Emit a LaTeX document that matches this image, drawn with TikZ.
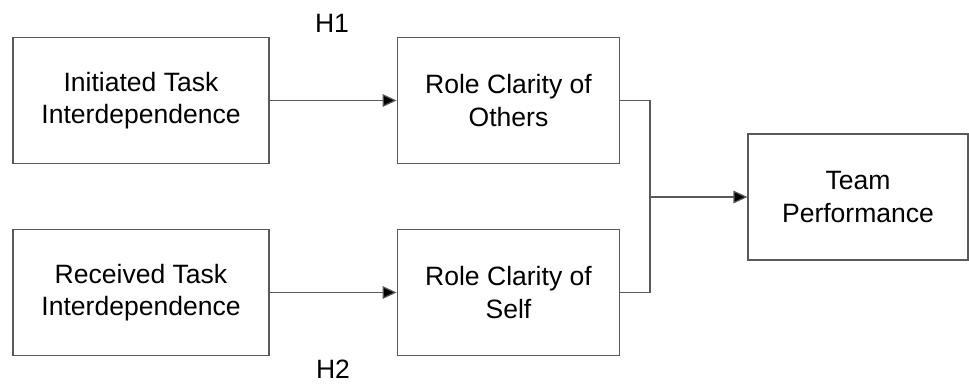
\documentclass[tikz,border=0pt]{standalone}
\usepackage{fontspec}
\setmainfont{Liberation Sans}
\usetikzlibrary{arrows.meta,positioning}

\tikzset{
  varbox/.style={draw=black!65, line width=0.9pt, align=center, inner sep=0pt,
    minimum height=94.5pt, font=\fontsize{19.9pt}{24.2pt}\selectfont},
  hyplabel/.style={font=\fontsize{19.9pt}{24.2pt}\selectfont},
  link/.style={draw=black!65, line width=0.9pt},
  arr/.style={link, -{Triangle[length=10.5pt,width=9.5pt,fill=black]}}
}

\begin{document}
\begin{tikzpicture}[x=0.75pt,y=-0.75pt]

\useasboundingbox (0,0) rectangle (969,383);

% Antecedents
\node[varbox, minimum width=192pt] (init) at (141,100.5) {Initiated Task\\Interdependence};
\node[varbox, minimum width=192pt] (recv) at (141,292.5) {Received Task\\Interdependence};

% Mediators
\node[varbox, minimum width=167pt] (others) at (508.5,100.5) {Role Clarity of\\Others};
\node[varbox, minimum width=167pt] (self) at (508.5,292.5) {Role Clarity of\\Self};

% Outcome
\node[varbox, minimum width=165pt] (team) at (858,197) {Team\\Performance};

% Hypotheses
\node[hyplabel] (h1) at (332,23) {H1};
\node[hyplabel] (h2) at (333,369) {H2};

% Paths
\draw[arr] (init) -- (others);
\draw[arr] (recv) -- (self);

\coordinate (join) at (650,197);
\draw[link] (others.east) -| (join) |- (self.east);
\draw[arr] (join) -- (team);

\end{tikzpicture}
\end{document}
